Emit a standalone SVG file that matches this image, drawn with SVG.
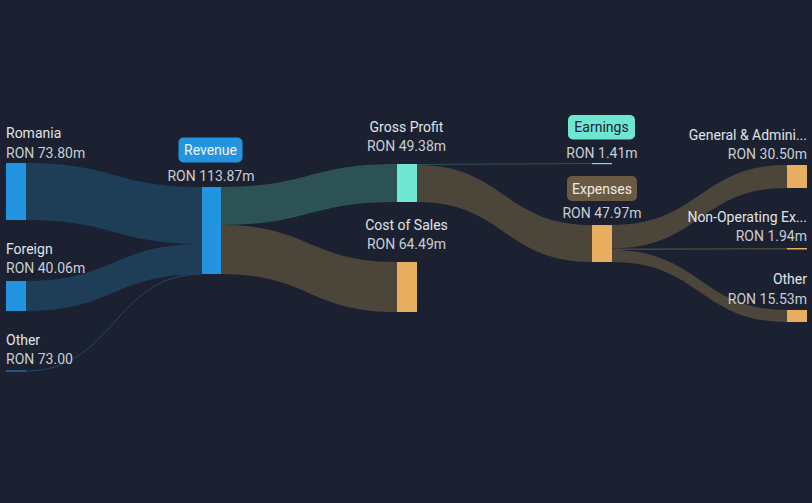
<svg xmlns="http://www.w3.org/2000/svg" width="812" height="503" viewBox="0 0 812 503">
<style>
text{font-family:Roboto,"Liberation Sans",sans-serif;font-size:14px}
.nm{fill:#e0e3e8}
.vl{fill:#c9cdd4}
.mid{text-anchor:middle}
.end{text-anchor:end}
.blue{fill:#2394df}
.teal{fill:#6ee6d1}
.org{fill:#e7ae5f}
.fb{fill:#1e3d57}
.ft{fill:#2d5256}
.fw{fill:#4c4539}
</style>
<rect width="812" height="503" fill="#1b2130"/>
<g id="connectors">
<path class="fb" d="M26,163 C114,163 114,187 202,187 L202,244 C114,244 114,220 26,220 Z"/>
<path class="fb" d="M26,281 C114,281 114,244 202,244 L202,274 C114,274 114,311 26,311 Z"/>
<path d="M26,371 C114,371 114,274 202,274" fill="none" stroke="#1f4a6c" stroke-width="1"/>
<path class="ft" d="M221,187 C309,187 309,164 397,164 L397,202 C309,202 309,225 221,225 Z"/>
<path class="fw" d="M221,225 C309,225 309,262 397,262 L397,312 C309,312 309,274 221,274 Z"/>
<path d="M417,164.5 C504,164.5 504,163.5 592,163.5" fill="none" stroke="#2d5256" stroke-width="1.2"/>
<path class="fw" d="M417,165 C504,165 504,225 592,225 L592,262 C504,262 504,202 417,202 Z"/>
<path class="fw" d="M612,225 C700,225 700,165 787,165 L787,188 C700,188 700,248.5 612,248.5 Z"/>
<path d="M612,249.2 C700,249.2 700,248.7 787,248.7" fill="none" stroke="#4c4539" stroke-width="1.5"/>
<path class="fw" d="M612,250 C700,250 700,310 787,310 L787,322 C700,322 700,262 612,262 Z"/>
</g>
<g id="node-romania">
<rect class="blue" x="6" y="163" width="20" height="57"/>
<text class="nm" x="6" y="138">Romania</text>
<text class="vl" x="6" y="157.5">RON 73.80m</text>
</g>
<g id="node-foreign">
<rect class="blue" x="6" y="281" width="20" height="30"/>
<text class="nm" x="6" y="254">Foreign</text>
<text class="vl" x="6" y="273">RON 40.06m</text>
</g>
<g id="node-other-in">
<rect class="blue" x="6" y="370.5" width="20" height="1"/>
<text class="nm" x="6" y="345">Other</text>
<text class="vl" x="6" y="363.5">RON 73.00</text>
</g>
<g id="node-revenue">
<rect class="blue" x="202" y="187" width="19" height="87"/>
<rect class="blue" x="178.5" y="137.5" width="64" height="25" rx="5"/>
<text class="mid" x="210.5" y="155" fill="#f1f5fa">Revenue</text>
<text class="vl mid" x="211" y="181">RON 113.87m</text>
</g>
<g id="node-gross-profit">
<rect class="teal" x="397" y="164" width="20" height="38"/>
<text class="nm mid" x="406.5" y="131.7">Gross Profit</text>
<text class="vl mid" x="406.5" y="150.7">RON 49.38m</text>
</g>
<g id="node-cost-of-sales">
<rect class="org" x="397" y="262" width="20" height="50"/>
<text class="nm mid" x="406.5" y="230">Cost of Sales</text>
<text class="vl mid" x="406.5" y="249">RON 64.49m</text>
</g>
<g id="node-earnings">
<rect class="teal" x="592" y="163" width="20" height="1.2"/>
<rect class="teal" x="568" y="115" width="67" height="24.5" rx="5"/>
<text class="mid" x="601.5" y="132" fill="#1b2130">Earnings</text>
<text class="vl mid" x="602" y="157.5">RON 1.41m</text>
</g>
<g id="node-expenses">
<rect class="org" x="592" y="225" width="20" height="37"/>
<rect x="567" y="176" width="70" height="25" rx="5" fill="#6b5a43"/>
<text class="mid" x="602" y="193.5" fill="#eceae6">Expenses</text>
<text class="vl mid" x="602" y="218">RON 47.97m</text>
</g>
<g id="node-general-admin">
<rect class="org" x="787" y="165" width="20" height="23"/>
<text class="nm end" x="807" y="139.5">General &amp; Admini...</text>
<text class="vl end" x="807" y="158.5">RON 30.50m</text>
</g>
<g id="node-non-operating">
<rect class="org" x="787" y="248" width="20" height="1.5"/>
<text class="nm end" x="807" y="221.7">Non-Operating Ex...</text>
<text class="vl end" x="807" y="241">RON 1.94m</text>
</g>
<g id="node-other-out">
<rect class="org" x="787" y="310" width="20" height="12"/>
<text class="nm end" x="807" y="284">Other</text>
<text class="vl end" x="807" y="303.5">RON 15.53m</text>
</g>
</svg>
